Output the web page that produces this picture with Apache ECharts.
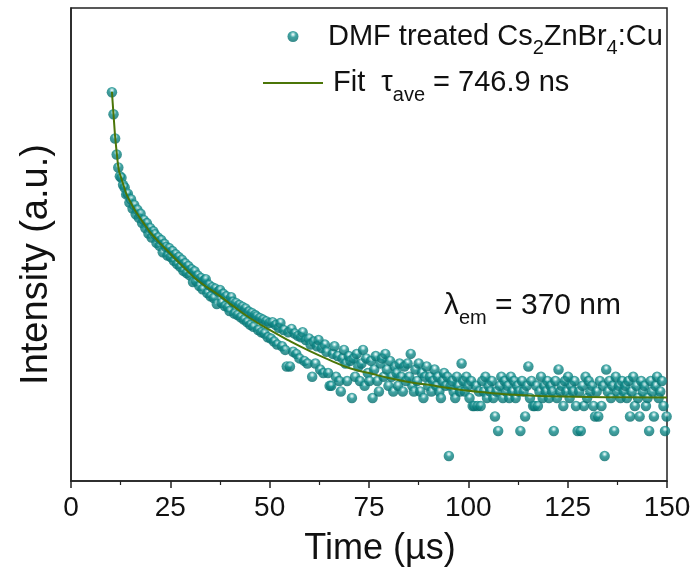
<!DOCTYPE html>
<html><head><meta charset="utf-8">
<script src="https://cdn.jsdelivr.net/npm/echarts@6/dist/echarts.min.js"></script>
<style>html,body{margin:0;padding:0;background:#fff}#c{width:699px;height:581px}</style>
</head><body><div id="c"></div>
<script>
// Time channels of the decay trace (µs)
var timeStart = 10.3;
var timeStep = 0.4;
var decayCounts = [
24200,13100,6700,4300,3000,2350,2250,1850,1720,1420,
1450,1130,1240,960,1060,820,930,740,830,640,
700,560,640,480,560,430,510,470,370,430,
340,400,285,360,330,260,320,250,295,225,
270,205,250,190,232,170,210,160,195,150,
178,125,168,128,150,112,140,102,130,135,
92,115,84,108,80,104,68,96,100,70,
90,64,84,62,56,82,72,52,70,50,
66,47,63,44,60,41,55,38,53,36,
50,48,33,46,31,44,30,42,27,40,
26,41,24,38,22,35,40,21,33,19,
12,31,12,34,18,30,17,28,15,27,
31,14,25,13,26,22,9,24,13,21,
25,11,20,10,22,18,10,7,7,17,
21,9,16,8,6,15,19,13,8,16,
14,5,15,9,17,12,8,13,19,7,
15,10,8,14,5,11,16,8,6,13,
15,9,17,11,7,14,9,6,12,10,
7,13,9,6,12,8,13,9,17,7,
6,11,8,13,6,10,5,9,12,7,
9,6,8,11,7,9,6,5,8,10,
7,9,1,7,8,6,5,9,7,6,
13,8,6,9,7,5,8,4,4,7,
4,6,4,8,6,9,5,7,6,8,
5,3,6,2,7,9,5,8,6,7,
5,9,6,8,5,7,6,2,8,6,
3,7,12,5,8,4,4,7,4,6,
9,5,7,6,8,5,7,6,2,8,
5,11,6,7,4,8,6,9,5,7,
6,8,4,2,6,2,7,4,9,5,
8,6,7,4,3,6,3,8,4,7,
1,11,6,8,5,7,2,9,6,7,
5,8,6,7,5,8,3,6,9,4,
7,5,3,8,6,7,4,5,2,8,
6,3,7,9,5,6,8,4,2,3
];
// Fit curve
var fitTime = [10.3,10.5,10.7,10.9,11.1,11.3,11.5,11.8,12.1,12.5,13,13.5,14,15,16,17,18,19,20,22.5,25,28,32,37,41,45,50,55,60,65,70,75,80,85,90,95,100,105,110,120,130,140,150];
var fitCounts = [24500,17800,13000,9590,7070,5660,4530,3350,2700,2350,1970,1660,1410,1140,930,785,666,570,490,362,274,196,129,88,63,46,33,24.4,18.5,14.4,11.5,10.0,8.7,7.8,7.2,6.6,6.1,5.8,5.5,5.25,5.15,5.1,5.08];
var xTicks = [0,25,50,75,100,125,150];
var seriesNames = ['DMF treated Cs2ZnBr4:Cu', 'Fit'];

var scatterData = decayCounts.map(function(v,i){ return [+(timeStart + i*timeStep).toFixed(2), v]; });
var fitData = fitTime.map(function(t,i){ return [t, fitCounts[i]]; });

var FONT = '"Liberation Sans", Arial, sans-serif';
var FITCOLOR = '#4b7508';
var sphere = {type:'radial', x:0.5, y:0.32, r:0.7, colorStops:[
  {offset:0, color:'#ffffff'},{offset:0.14, color:'#a6dcdc'},{offset:0.38, color:'#118d8c'},{offset:1, color:'#056a6a'}]};

var chart = echarts.init(document.getElementById('c'));
chart.setOption({
  animation:false,
  backgroundColor:'#fff',
  grid:{left:71, right:32, top:8, bottom:100, show:true, borderColor:'#222', borderWidth:1.5},
  legend:{
    orient:'vertical', left:263, top:22, padding:0, itemGap:10,
    itemWidth:60, itemHeight:11,
    data:[{name:seriesNames[0], icon:'circle'},
          {name:seriesNames[1], icon:'path://M0,0L60,0L60,2L0,2Z', itemStyle:{color:FITCOLOR}}],
    formatter:function(n){
      if(n===seriesNames[0]) return '{a|DMF treated Cs}{s|2}{a|ZnBr}{s|4}{a|:Cu}';
      return '{b|Fit  τ}{s|ave}{a| = 746.9 ns}';
    },
    textStyle:{fontFamily:FONT, color:'#111', rich:{
      a:{fontSize:29, fontFamily:FONT, color:'#111', lineHeight:44},
      b:{fontSize:29, fontFamily:FONT, color:'#111', lineHeight:44, padding:[0,0,0,5]},
      s:{fontSize:20, fontFamily:FONT, color:'#111', lineHeight:20, verticalAlign:'bottom'}
    }}
  },
  xAxis:{
    type:'value', min:0, max:150, interval:25,
    name:'Time (µs)', nameLocation:'middle', nameGap:50,
    nameTextStyle:{fontSize:36, fontFamily:FONT, color:'#111', padding:[0,0,0,22]},
    axisLine:{show:true, onZero:false, lineStyle:{color:'#222', width:1.5}},
    axisTick:{show:true, inside:false, length:7, lineStyle:{color:'#222', width:1.5}},
    minorTick:{show:true, splitNumber:2, length:4, lineStyle:{color:'#222', width:1.2}},
    axisLabel:{fontSize:28, fontFamily:FONT, color:'#111', margin:13},
    splitLine:{show:false}
  },
  yAxis:{
    type:'log', min:0.5, max:250000,
    name:'Intensity (a.u.)', nameLocation:'middle', nameGap:15, nameRotate:90,
    nameTextStyle:{fontSize:38, fontFamily:FONT, color:'#111', padding:[0,40,0,0]},
    axisLine:{show:true, lineStyle:{color:'#222', width:1.5}},
    axisTick:{show:false}, axisLabel:{show:false}, splitLine:{show:false}, minorTick:{show:false}
  },
  graphic:[{
    type:'text', left:444, top:291, silent:true,
    style:{text:'{l|λ}{s|em}{a| = 370 nm}', fill:'#111', rich:{
      l:{fontSize:30, fontFamily:FONT, lineHeight:44},
      a:{fontSize:30, fontFamily:FONT, lineHeight:44},
      s:{fontSize:20, fontFamily:FONT, lineHeight:20, verticalAlign:'bottom'}
    }}
  }],
  series:[
    {name:seriesNames[0], type:'scatter', data:scatterData, symbol:'circle', symbolSize:10.5,
     itemStyle:{color:sphere}, z:2},
    {name:seriesNames[1], type:'line', data:fitData, smooth:true, symbol:'none', showSymbol:false,
     lineStyle:{color:FITCOLOR, width:2}, itemStyle:{color:FITCOLOR}, z:3}
  ]
});
</script></body></html>
